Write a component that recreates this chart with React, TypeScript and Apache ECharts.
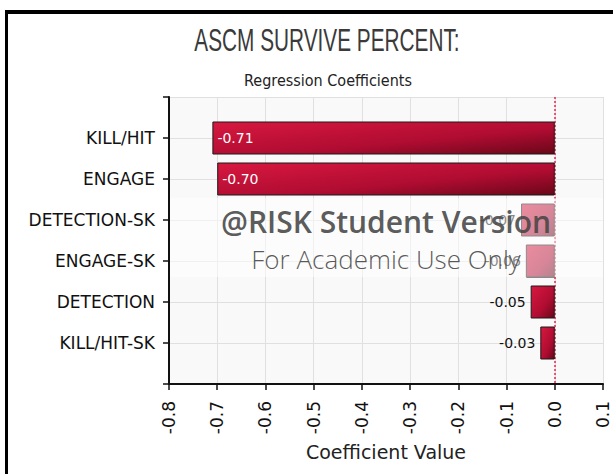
import React, { useEffect, useRef } from "react";
import * as echarts from "echarts";

const categories = ["KILL/HIT", "ENGAGE", "DETECTION-SK", "ENGAGE-SK", "DETECTION", "KILL/HIT-SK"];
const values = [-0.71, -0.7, -0.07, -0.06, -0.05, -0.03];
const xMin = -0.8;
const xMax = 0.1;
const xStep = 0.1;
const titleText = "ASCM SURVIVE PERCENT:";
const subtitleText = "Regression Coefficients";
const xAxisName = "Coefficient Value";

export default function App() {
  const ref = useRef<HTMLDivElement>(null);
  useEffect(() => {
    if (!ref.current) return;
    const chart = echarts.init(ref.current, null, { renderer: "svg" });
    const yCats = ["", ...categories, ""];
    const barFill = new echarts.graphic.LinearGradient(0, 0, 1, 1, [
      { offset: 0, color: "#d8183f" },
      { offset: 0.6, color: "#b00c32" },
      { offset: 1, color: "#6a0718" },
    ]);
    const barData: any[] = ["-"];
    values.forEach((v) => {
      const big = Math.abs(v) >= 0.3;
      barData.push({
        value: v,
        label: big
          ? { position: "insideLeft", color: "#ffffff", distance: 5 }
          : { position: "left", color: "#111111", distance: 5 },
      });
    });
    barData.push("-");
    const font = "DejaVu Sans";
    chart.setOption({
      animation: false,
      backgroundColor: "#ffffff",
      grid: {
        left: 169,
        right: 10,
        top: 97,
        bottom: 90,
        show: true,
        backgroundColor: "#f9f9f9",
        borderWidth: 0,
      },
      xAxis: {
        type: "value",
        min: xMin,
        max: xMax,
        interval: xStep,
        name: xAxisName,
        nameLocation: "middle",
        nameGap: 58,
        nameTextStyle: { fontSize: 19, color: "#222", fontFamily: font },
        axisLine: { show: true, onZero: false, lineStyle: { color: "#111", width: 2 } },
        axisTick: { show: true, length: 6, lineStyle: { color: "#111", width: 1.5 } },
        axisLabel: {
          rotate: 90,
          margin: 17,
          fontSize: 17,
          color: "#111",
          fontFamily: font,
          formatter: (v: number) => (Math.abs(v) < 1e-9 ? "0.0" : v.toFixed(1)),
        },
        splitLine: { show: true, lineStyle: { color: "#e0e0e0", width: 1 } },
      },
      yAxis: {
        type: "category",
        data: yCats,
        inverse: true,
        boundaryGap: false,
        axisLine: { show: true, onZero: false, lineStyle: { color: "#111", width: 2 } },
        axisTick: { show: true, length: 6, interval: 0, lineStyle: { color: "#111", width: 1.5 } },
        axisLabel: { interval: 0, margin: 14, fontSize: 17, color: "#111", fontFamily: font },
        splitLine: { show: true, interval: 0, lineStyle: { color: "#e0e0e0", width: 1 } },
      },
      series: [
        {
          type: "bar",
          data: barData,
          barWidth: 33,
          itemStyle: { color: barFill, borderColor: "#1a1a1a", borderWidth: 1 },
          label: {
            show: true,
            fontSize: 14,
            fontFamily: font,
            formatter: (p: any) => Number(p.value).toFixed(2),
          },
          markLine: {
            silent: true,
            symbol: "none",
            z: 1,
            label: { show: false },
            lineStyle: { color: "#f0204a", type: [2, 2], width: 1.5, opacity: 1 },
            data: [{ xAxis: 0 }],
          },
        },
      ],
      graphic: [
        { type: "rect", z: 200, shape: { x: 5, y: 10, width: 610, height: 4 }, style: { fill: "#000" } },
        { type: "rect", z: 200, shape: { x: 5, y: 10, width: 3, height: 470 }, style: { fill: "#000" } },
        {
          type: "text",
          z: 100,
          x: 327,
          y: 40,
          scaleX: 0.65,
          style: {
            text: titleText,
            fontSize: 32,
            fontFamily: "Liberation Sans",
            fill: "#3a3a3a",
            textAlign: "center",
            textVerticalAlign: "middle",
          },
        },
        {
          type: "text",
          z: 100,
          x: 328,
          y: 80,
          style: {
            text: subtitleText,
            fontSize: 16,
            fontFamily: "DejaVu Sans Condensed",
            fill: "#222",
            textAlign: "center",
            textVerticalAlign: "middle",
          },
        },
        {
          type: "rect",
          z: 100,
          shape: { x: 170, y: 198, width: 433, height: 79 },
          style: { fill: "rgba(255,255,255,0.5)" },
        },
        {
          type: "text",
          z: 101,
          x: 386,
          y: 221,
          style: {
            text: "@RISK Student Version",
            fontSize: 30,
            fontWeight: 600,
            fontFamily: "Open Sans",
            fill: "rgba(70,70,70,0.9)",
            textAlign: "center",
            textVerticalAlign: "middle",
          },
        },
        {
          type: "text",
          z: 101,
          x: 386,
          y: 259,
          style: {
            text: "For Academic Use Only",
            fontSize: 26,
            fontWeight: 300,
            fontFamily: "Open Sans",
            fill: "rgba(60,60,60,0.85)",
            textAlign: "center",
            textVerticalAlign: "middle",
          },
        },
      ],
    });
    return () => chart.dispose();
  }, []);
  return (
    <div
      ref={ref}
      style={{ position: "absolute", left: 0, top: 0, width: 613, height: 474, background: "#fff" }}
    />
  );
}
